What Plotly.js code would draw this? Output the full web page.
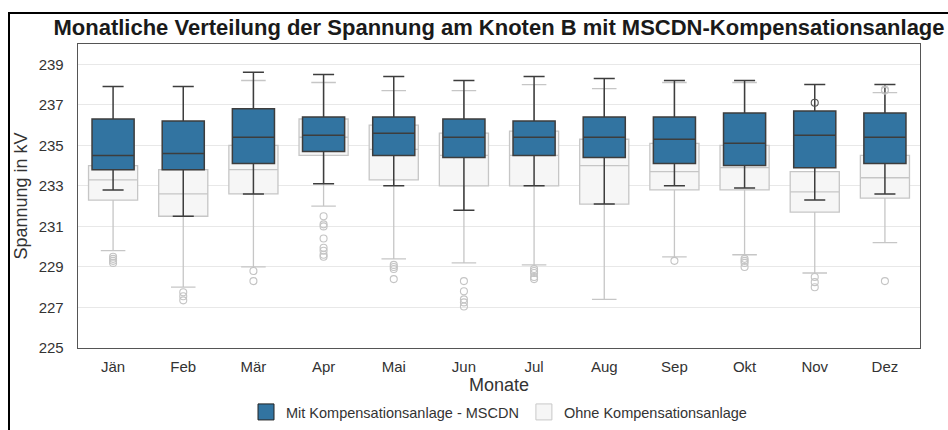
<!DOCTYPE html>
<html>
<head>
<meta charset="utf-8">
<script src="https://cdn.plot.ly/plotly-3.0.1.min.js"></script>
<style>
  html, body { margin: 0; padding: 0; background: #fff; overflow: hidden; }
  #wrap { position: relative; width: 948px; height: 430px; }
  #chart { position: absolute; left: 0; top: 0; width: 948px; height: 430px; }
  #frame { position: absolute; left: 8px; top: 12px; width: 1000px; height: 500px;
           border-left: 2px solid #000; border-top: 2px solid #000; pointer-events: none; }
</style>
</head>
<body>
<div id="wrap">
  <div id="chart"></div>
  <div id="frame"></div>
</div>
<script>
// ---- Data ----
const months = ['Jän','Feb','Mär','Apr','Mai','Jun','Jul','Aug','Sep','Okt','Nov','Dez'];

// Mit Kompensationsanlage - MSCDN
const mitLower  = [232.8, 231.5, 232.6, 233.1, 233.0, 231.8, 233.0, 232.1, 233.0, 232.9, 232.3, 232.6];
const mitQ1     = [233.8, 233.8, 234.1, 234.7, 234.5, 234.4, 234.5, 234.4, 234.1, 234.0, 233.9, 234.1];
const mitMedian = [234.5, 234.6, 235.4, 235.5, 235.6, 235.4, 235.4, 235.4, 235.3, 235.1, 235.5, 235.4];
const mitQ3     = [236.3, 236.2, 236.8, 236.4, 236.4, 236.3, 236.2, 236.4, 236.4, 236.6, 236.7, 236.6];
const mitUpper  = [237.9, 237.9, 238.6, 238.5, 238.4, 238.2, 238.4, 238.3, 238.2, 238.2, 238.0, 238.0];
const mitOutlierMonths = ['Nov'];
const mitOutlierValues = [237.1];

// Ohne Kompensationsanlage
const ohneLower  = [229.8, 228.0, 229.0, 232.0, 229.4, 229.2, 229.1, 227.4, 229.5, 229.6, 228.7, 230.2];
const ohneQ1     = [232.3, 231.5, 232.6, 234.5, 233.3, 233.0, 233.0, 232.1, 232.8, 232.8, 231.7, 232.4];
const ohneMedian = [233.3, 232.6, 233.8, 235.4, 234.8, 234.5, 234.5, 234.0, 233.7, 233.9, 232.7, 233.4];
const ohneQ3     = [234.0, 233.8, 235.0, 236.3, 236.0, 235.6, 235.7, 235.3, 235.1, 235.0, 233.7, 234.5];
const ohneUpper  = [236.2, 236.0, 238.2, 238.1, 237.7, 237.7, 238.0, 237.8, 238.1, 238.1, 236.3, 237.6];
const ohneOutlierMonths = ['Jän','Jän','Jän','Jän','Feb','Feb','Feb','Mär','Mär',
  'Apr','Apr','Apr','Apr','Apr','Apr','Apr','Apr','Mai','Mai','Mai','Mai',
  'Jun','Jun','Jun','Jun','Jun','Jul','Jul','Jul','Jul','Jul','Sep',
  'Okt','Okt','Okt','Okt','Nov','Nov','Nov','Dez','Dez','Dez'];
const ohneOutlierValues = [229.5, 229.4, 229.3, 229.2, 227.75, 227.55, 227.35, 228.8, 228.3,
  231.5, 231.1, 231.0, 230.4, 229.95, 229.8, 229.6, 229.5, 229.1, 229.0, 228.9, 228.4,
  228.3, 227.8, 227.4, 227.25, 227.05, 228.9, 228.8, 228.7, 228.5, 228.4, 229.3,
  229.4, 229.3, 229.2, 229.0, 228.5, 228.25, 228.0, 237.75, 237.7, 228.3];

const yTicks = [225, 227, 229, 231, 233, 235, 237, 239];

const seriesNames = ['Mit Kompensationsanlage - MSCDN', 'Ohne Kompensationsanlage'];

// ---- Styles ----
const blueFill = '#3274a1', blueLine = '#3d3d3d';
const whiteFill = '#f6f6f6', whiteLine = '#c6c6c6';
const font = 'Liberation Sans, Arial, sans-serif';

const traces = [
  {
    type: 'box', name: seriesNames[1], x: months,
    q1: ohneQ1, median: ohneMedian, q3: ohneQ3, lowerfence: ohneLower, upperfence: ohneUpper,
    boxpoints: false, width: 0.7, whiskerwidth: 0.5,
    fillcolor: whiteFill, line: {color: whiteLine, width: 1.3},
    showlegend: false, hoverinfo: 'skip'
  },
  {
    type: 'scatter', mode: 'markers', x: ohneOutlierMonths, y: ohneOutlierValues,
    marker: {symbol: 'circle-open', size: 7, color: '#c4c4c4', line: {width: 1.1}},
    showlegend: false, hoverinfo: 'skip'
  },
  {
    type: 'box', name: seriesNames[0], x: months,
    q1: mitQ1, median: mitMedian, q3: mitQ3, lowerfence: mitLower, upperfence: mitUpper,
    boxpoints: false, width: 0.6, whiskerwidth: 0.5,
    fillcolor: blueFill, line: {color: blueLine, width: 1.5},
    showlegend: false, hoverinfo: 'skip'
  },
  {
    type: 'scatter', mode: 'markers', x: mitOutlierMonths, y: mitOutlierValues,
    marker: {symbol: 'circle-open', size: 7, color: '#555555', line: {width: 1.1}},
    showlegend: false, hoverinfo: 'skip'
  },
  // legend entries
  {
    type: 'scatter', mode: 'markers', name: seriesNames[0], x: [null], y: [null],
    marker: {symbol: 'square', size: 16, color: blueFill, line: {color: '#222', width: 1}},
    legendrank: 1, hoverinfo: 'skip'
  },
  {
    type: 'scatter', mode: 'markers', name: seriesNames[1], x: [null], y: [null],
    marker: {symbol: 'square', size: 16, color: whiteFill, line: {color: '#c8c8c8', width: 1}},
    legendrank: 2, hoverinfo: 'skip'
  }
];

const layout = {
  width: 948, height: 430,
  margin: {l: 78, r: 28, t: 44, b: 82, autoexpand: false},
  paper_bgcolor: 'rgba(0,0,0,0)', plot_bgcolor: '#ffffff',
  boxmode: 'overlay',
  font: {family: font, color: '#333333'},
  title: {
    text: '<b>Monatliche Verteilung der Spannung am Knoten B mit MSCDN-Kompensationsanlage</b>',
    font: {family: font, size: 22, color: '#1a1a1a'},
    x: 0.5, xref: 'paper', xanchor: 'center',
    y: 1 - 27 / 430, yref: 'container', yanchor: 'middle'
  },
  xaxis: {
    type: 'category', categoryorder: 'array', categoryarray: months,
    range: [-0.5, 11.5],
    showgrid: false, zeroline: false,
    showline: true, mirror: true, linecolor: '#555555', linewidth: 1.3,
    ticks: '', ticklabelstandoff: 5,
    tickfont: {family: font, size: 15, color: '#333333'},
    title: {text: 'Monate', font: {family: font, size: 18, color: '#333333'}, standoff: 3},
    automargin: false
  },
  yaxis: {
    range: [225, 240], tickvals: yTicks, ticktext: yTicks.map(String),
    showgrid: true, gridcolor: '#e8e8e8', gridwidth: 1, zeroline: false,
    showline: true, mirror: true, linecolor: '#555555', linewidth: 1.3,
    ticks: '', ticklabelstandoff: 10,
    tickfont: {family: font, size: 15, color: '#333333'},
    title: {text: 'Spannung in kV', font: {family: font, size: 18, color: '#333333'}, standoff: 6},
    automargin: false
  },
  legend: {
    orientation: 'h', x: 0.5, xanchor: 'center', xref: 'paper',
    y: (430 - 412) / 430, yanchor: 'middle', yref: 'container',
    font: {family: font, size: 14.5, color: '#333333'},
    itemwidth: 30, tracegroupgap: 0, bgcolor: 'rgba(0,0,0,0)'
  },
  showlegend: true
};

Plotly.newPlot('chart', traces, layout, {displayModeBar: false, staticPlot: true});
</script>
</body>
</html>
